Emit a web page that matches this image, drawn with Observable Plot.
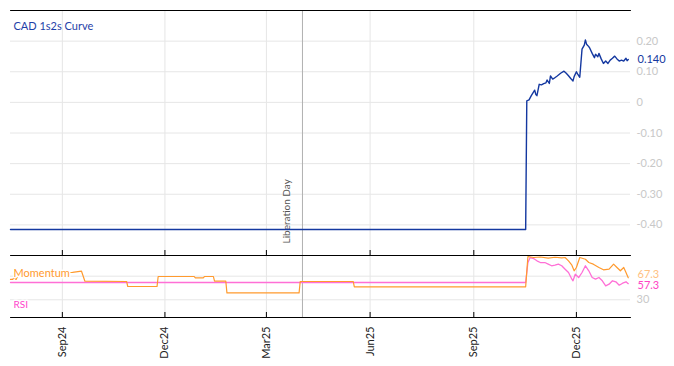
<!DOCTYPE html>
<html><head><meta charset="utf-8">
<script src="https://cdn.jsdelivr.net/npm/d3@7"></script>
<script src="https://cdn.jsdelivr.net/npm/@observablehq/plot@0.6"></script>
<style>body{margin:0;background:#fff} #chart{width:674px;height:366px} svg{display:block}</style>
</head><body><div id="chart"></div>
<script>
const title = "CAD 1s2s Curve";
const xDomain = ["2024-07-17", "2026-01-18"];
const xTickDates = ["2024-09-01","2024-12-01","2025-03-01","2025-06-01","2025-09-01","2025-12-01"];
const curveYTicks = [0.2, 0.1, 0, -0.1, -0.2, -0.3, -0.4];
const curveYDomain = [-0.5, 0.3];
const eventDate = "2025-04-02";
const eventLabel = "Liberation Day";

const curveDates = ["2024-07-17","2025-10-17","2025-10-18","2025-10-20","2025-10-22","2025-10-25","2025-10-26","2025-10-27","2025-10-29","2025-10-31",
"2025-11-02","2025-11-04","2025-11-05","2025-11-07","2025-11-08","2025-11-10","2025-11-11","2025-11-14","2025-11-17","2025-11-20",
"2025-11-22","2025-11-24","2025-11-26","2025-11-28","2025-11-29","2025-12-01","2025-12-02","2025-12-04","2025-12-06","2025-12-08",
"2025-12-09","2025-12-10","2025-12-12","2025-12-13","2025-12-15","2025-12-17","2025-12-18","2025-12-20","2025-12-21","2025-12-23",
"2025-12-25","2025-12-27","2025-12-29","2025-12-31","2026-01-02","2026-01-04","2026-01-06","2026-01-08","2026-01-10","2026-01-12",
"2026-01-14","2026-01-15","2026-01-16"];
const curveValues = [-0.415,-0.415,0.005,0.008,0.022,0.040,0.026,0.022,0.059,0.057,
0.061,0.064,0.073,0.062,0.086,0.076,0.078,0.086,0.095,0.102,
0.095,0.087,0.078,0.070,0.084,0.100,0.093,0.082,0.174,0.187,
0.204,0.190,0.182,0.176,0.160,0.146,0.157,0.149,0.160,0.142,
0.127,0.135,0.127,0.138,0.144,0.151,0.142,0.135,0.138,0.135,
0.144,0.136,0.140];

const oscYDomain = [0, 105];
const oscYTicks = [30, 70];
const oscAxisLabels = [30];

const momDates = ["2024-07-17","2024-07-19","2024-07-20","2024-07-22","2024-07-24","2024-08-14","2024-09-10","2024-09-18","2024-09-21","2024-10-28",
"2024-10-29","2024-11-24","2024-11-25","2024-12-27","2024-12-28","2025-01-04","2025-01-05","2025-01-13","2025-01-14","2025-01-24",
"2025-01-25","2025-03-30","2025-03-31","2025-05-17","2025-05-18","2025-10-17","2025-10-19","2025-10-24","2025-10-30","2025-11-06",
"2025-11-12","2025-11-18","2025-11-21","2025-11-24","2025-11-27","2025-11-29","2025-12-01","2025-12-04","2025-12-09","2025-12-12",
"2025-12-16","2025-12-21","2025-12-25","2025-12-30","2026-01-03","2026-01-06","2026-01-09","2026-01-12","2026-01-14","2026-01-16"];
const momValues = [64.4,64.4,67.7,64.4,72.8,75.7,76.5,78.4,61.5,61.0,
52.5,52.5,69.4,69.4,67.2,67.2,69.4,69.4,61.5,61.5,
41.8,41.8,61.0,61.0,52.0,52.0,103.3,101.6,102.5,100.5,
102.0,101.0,101.6,96.0,88.6,79.1,84.7,101.6,98.7,93.1,
90.3,84.7,80.8,81.8,90.3,84.7,79.1,84.7,76.2,67.3];

const rsiDates = ["2024-07-17","2025-10-17","2025-10-19","2025-10-21","2025-10-24","2025-10-27","2025-10-30","2025-11-03","2025-11-06","2025-11-09",
"2025-11-12","2025-11-15","2025-11-18","2025-11-21","2025-11-24","2025-11-27","2025-11-28","2025-11-30","2025-12-03","2025-12-06",
"2025-12-09","2025-12-12","2025-12-15","2025-12-18","2025-12-21","2025-12-24","2025-12-27","2025-12-30","2026-01-02","2026-01-05",
"2026-01-08","2026-01-11","2026-01-14","2026-01-16"];
const rsiValues = [59.3,59.3,93.1,101.6,99.9,96.0,93.1,93.1,90.3,87.6,
88.6,90.3,87.6,81.8,76.2,64.9,62.2,73.3,67.7,76.2,
87.6,79.1,67.7,64.9,67.7,62.2,53.7,56.4,62.2,60.5,
54.7,58.1,60.5,57.3];

const colors = {curve: "#1438a0", mom: "#ff9a2e", rsi: "#ff6fd6", grid: "#e6e6e6", tick: "#c8c8c8"};
const parse = s => new Date(s);
const curve = curveDates.map((d, i) => ({date: parse(d), v: curveValues[i]}));
const mom = momDates.map((d, i) => ({date: parse(d), v: momValues[i]}));
const rsi = rsiDates.map((d, i) => ({date: parse(d), v: rsiValues[i]}));
const xTicks = xTickDates.map(parse);
const xEnds = xDomain.map(parse);
const ev = parse(eventDate);
const fmt = d => d === 0 ? "0" : d.toFixed(2);
const font = {fontFamily: "Lato, 'Open Sans', sans-serif", fontSize: "11px", background: "white", overflow: "visible"};
const W = 674, mL = 10, mR = 44, topH = 255, topMT = 10, botPlotH = 62, botMB = 49, tickLen = 5;
const border = v => xEnds.map(x => ({x, v}));

const topPlot = Plot.plot({
  width: W, height: topH, marginTop: topMT, marginBottom: 0, marginLeft: mL, marginRight: mR,
  style: font,
  x: {type: "utc", domain: xEnds, axis: null},
  y: {domain: curveYDomain},
  marks: [
    Plot.gridX(xTicks, {stroke: colors.grid, strokeOpacity: 1}),
    Plot.gridY(curveYTicks, {stroke: colors.grid, strokeOpacity: 1}),
    Plot.axisY(curveYTicks, {anchor: "right", label: null, tickSize: 0, tickPadding: 6, tickFormat: fmt, color: colors.tick, fontSize: 11}),
    Plot.ruleX([ev], {stroke: "#b0b0b0"}),
    Plot.text([eventLabel], {x: () => ev, frameAnchor: "bottom", rotate: -90, textAnchor: "start", dy: -12, dx: -12, fill: "#555", fontSize: 10}),
    Plot.line(border(curveYDomain[1]), {x: "x", y: "v", stroke: "black", strokeWidth: 1}),
    Plot.ruleX(xTicks, {stroke: "black", strokeOpacity: 1, insetTop: topH - topMT - tickLen}),
    Plot.line(curve, {x: "date", y: "v", stroke: colors.curve, strokeWidth: 1.4}),
    Plot.text([curve[curve.length - 1]], {y: "v", frameAnchor: "right", dx: 7, textAnchor: "start", text: d => d.v.toFixed(3), fill: colors.curve, fontSize: 11}),
    Plot.text([title], {frameAnchor: "top-left", dx: 3, dy: 12, fill: "#1f3fa8", fontSize: 11})
  ]
});

const bottomPlot = Plot.plot({
  width: W, height: botPlotH + botMB, marginTop: 0, marginBottom: botMB, marginLeft: mL, marginRight: mR,
  style: font,
  x: {type: "utc", domain: xEnds},
  y: {domain: oscYDomain},
  marks: [
    Plot.gridX(xTicks, {stroke: colors.grid, strokeOpacity: 1}),
    Plot.gridY(oscYTicks, {stroke: colors.grid, strokeOpacity: 1}),
    Plot.axisY(oscAxisLabels, {anchor: "right", label: null, tickSize: 0, tickPadding: 6, color: colors.tick, fontSize: 11}),
    Plot.axisX(xTicks, {anchor: "bottom", label: null, tickSize: 0, tickPadding: 9, tickRotate: -90, tickFormat: d3.utcFormat("%b%y"), fill: "#222", fontSize: 11}),
    Plot.ruleX([ev], {stroke: "#b0b0b0"}),
    Plot.line(border(oscYDomain[1]), {x: "x", y: "v", stroke: "black", strokeWidth: 1}),
    Plot.line(border(oscYDomain[0]), {x: "x", y: "v", stroke: "black", strokeWidth: 1}),
    Plot.ruleX(xTicks, {stroke: "black", strokeOpacity: 1, insetTop: botPlotH - tickLen}),
    Plot.line(rsi, {x: "date", y: "v", stroke: colors.rsi, strokeWidth: 1.3}),
    Plot.line(mom, {x: "date", y: "v", stroke: colors.mom, strokeWidth: 1.2}),
    Plot.text(["Momentum"], {frameAnchor: "top-left", dx: 3, dy: 14, fill: "#ff9a2e", stroke: "white", strokeWidth: 3, paintOrder: "stroke", fontSize: 11}),
    Plot.text(["RSI"], {frameAnchor: "bottom-left", dx: 3, dy: -10, fill: "#ff44cc", stroke: "white", strokeWidth: 3, paintOrder: "stroke", fontSize: 10}),
    Plot.text([mom[mom.length - 1]], {y: "v", frameAnchor: "right", dx: 7, dy: -3, textAnchor: "start", text: d => d.v.toFixed(1), fill: "#ffc182", fontSize: 11}),
    Plot.text([rsi[rsi.length - 1]], {y: "v", frameAnchor: "right", dx: 7, dy: 2, textAnchor: "start", text: d => d.v.toFixed(1), fill: "#ff44c4", fontSize: 11})
  ]
});

document.getElementById("chart").append(topPlot, bottomPlot);
</script>
</body></html>
